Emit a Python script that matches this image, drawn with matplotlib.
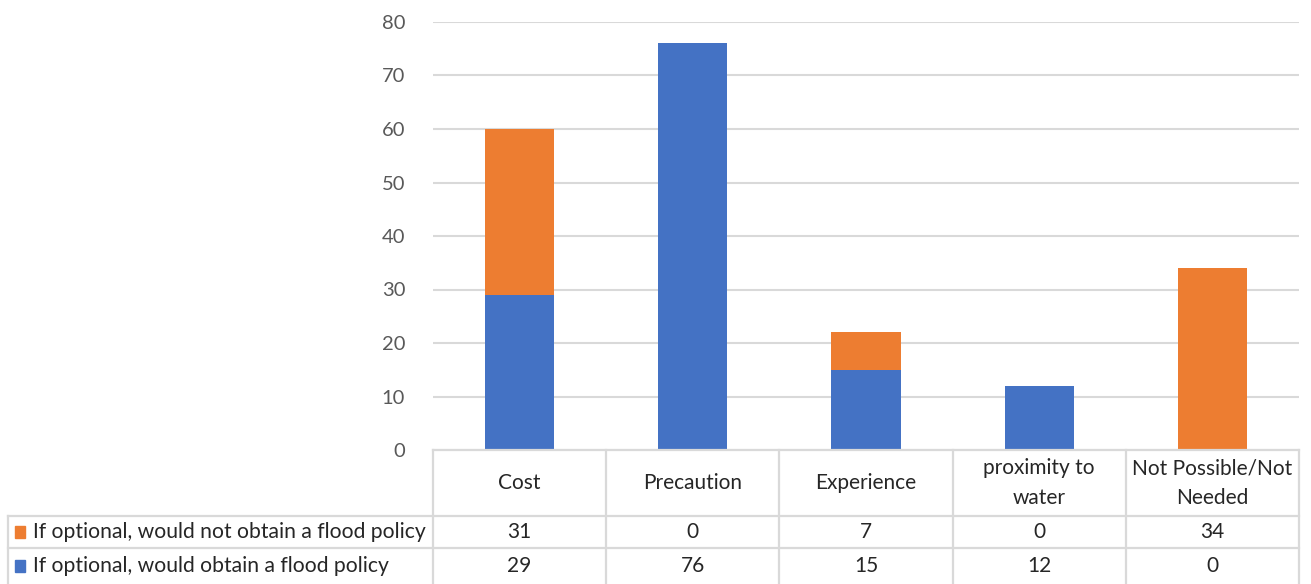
import matplotlib.pyplot as plt
import numpy as np

plt.rcParams['font.family'] = ['Lato', 'DejaVu Sans']

categories = ['Cost', 'Precaution', 'Experience', 'proximity to\nwater', 'Not Possible/Not\nNeeded']
would_not = [31, 0, 7, 0, 34]
would = [29, 76, 15, 12, 0]
series_names = ['If optional, would not obtain a flood policy',
                'If optional, would obtain a flood policy']
yticks = [0, 10, 20, 30, 40, 50, 60, 70, 80]

blue = '#4472C4'
orange = '#ED7D31'
grid_c = '#d9d9d9'
text_c = '#262626'

W, H = 1311, 584
fig = plt.figure(figsize=(W / 100, H / 100), dpi=100)

# plot area in pixel terms
left, right, top, bottom = 433, 1299, 22, 450
ax = fig.add_axes([left / W, 1 - bottom / H, (right - left) / W, (bottom - top) / H])
x = np.arange(len(categories))
ax.bar(x, would, width=0.4, color=blue, zorder=3)
ax.bar(x, would_not, width=0.4, bottom=would, color=orange, zorder=3)
ax.set_xlim(-0.5, len(categories) - 0.5)
ax.set_ylim(0, 80)
ax.set_yticks(yticks)
ax.tick_params(axis='y', length=0, pad=20, labelsize=14.5, labelcolor='#595959')
ax.set_xticks([])
ax.yaxis.grid(True, color=grid_c, lw=1.5, zorder=0)
for s in ax.spines.values():
    s.set_visible(False)

# data table underneath
tleft, tbottom = 8, 584
ncol = len(categories)
colw = (right - left) / ncol
tx0 = -0.5 - (left - tleft) / colw
tab = fig.add_axes([tleft / W, 0, (right - tleft) / W, (tbottom - bottom) / H])
tab.set_xlim(tx0, ncol - 0.5)
tab.set_ylim(0, tbottom - bottom)
tab.axis('off')

hdr_top, r1_top, r2_top = 134, 68, 36
lw = 1.6
# horizontal rules
tab.plot([-0.5, ncol - 0.5], [hdr_top, hdr_top], color=grid_c, lw=lw, clip_on=False)
for yy in (r1_top, r2_top):
    tab.plot([tx0, ncol - 0.5], [yy, yy], color=grid_c, lw=lw, clip_on=False)
# vertical rules
for i in range(ncol + 1):
    xx = -0.5 + i
    tab.plot([xx, xx], [0, hdr_top], color=grid_c, lw=lw, clip_on=False)
tab.plot([tx0, tx0], [0, r1_top], color=grid_c, lw=lw, clip_on=False)

fs = 15
for i, c in enumerate(categories):
    tab.text(i, (hdr_top + r1_top) / 2, c, ha='center', va='center', fontsize=fs,
             color=text_c, linespacing=1.6)
    tab.text(i, (r1_top + r2_top) / 2, str(would_not[i]), ha='center', va='center',
             fontsize=fs, color=text_c)
    tab.text(i, r2_top / 2, str(would[i]), ha='center', va='center',
             fontsize=fs, color=text_c)

# row headers with legend keys
for (yc, name, col) in [((r1_top + r2_top) / 2, series_names[0], orange),
                        (r2_top / 2, series_names[1], blue)]:
    kx = tx0 + 7 / colw
    tab.add_patch(plt.Rectangle((kx, yc - 6), 10 / colw, 12, color=col, clip_on=False))
    tab.text(tx0 + 25 / colw, yc, name, ha='left', va='center', fontsize=15.2, color=text_c)

fig.savefig('out.png', dpi=100)
